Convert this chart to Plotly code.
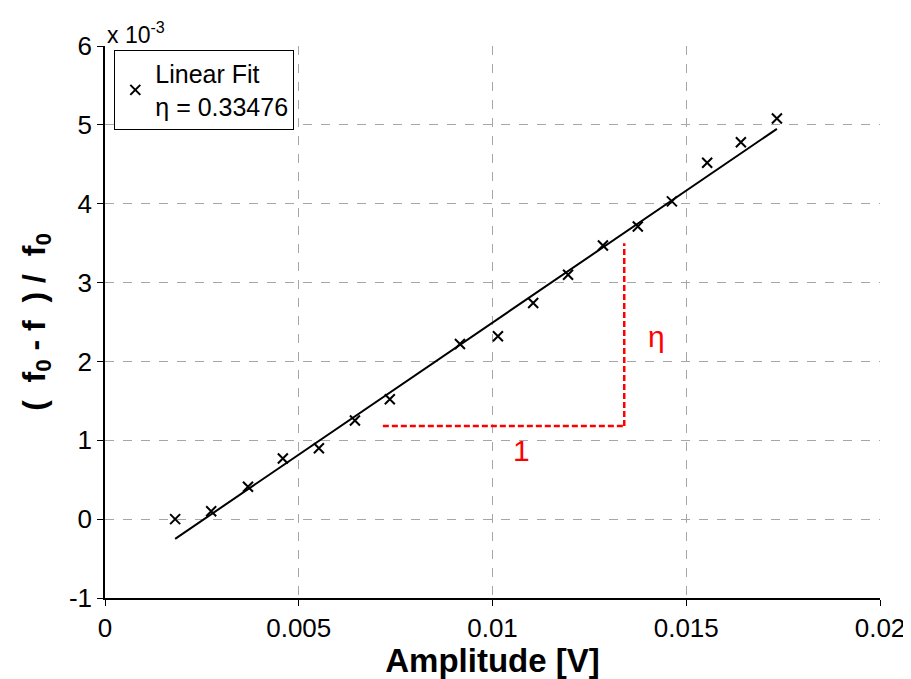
import plotly.graph_objects as go

# Measured points (x in V, y in units of 1e-3)
amp = [0.00181, 0.00274, 0.00369, 0.00459, 0.00552, 0.00645, 0.00735, 0.00916,
       0.01014, 0.01105, 0.01195, 0.01285, 0.01375, 0.01463, 0.01554, 0.01641, 0.01734]
rel_shift_e3 = [0.00, 0.10, 0.41, 0.77, 0.90, 1.25, 1.52, 2.22,
                2.32, 2.74, 3.10, 3.47, 3.71, 4.03, 4.52, 4.78, 5.08]

# Linear fit end points
fit_x = [0.00181, 0.01734]
fit_y_e3 = [-0.25, 4.95]
eta_text = "η = 0.33476"

# Slope triangle (red dashed)
tri_h_x = [0.00717, 0.01337]
tri_h_y = [1.18, 1.18]
tri_v_x = [0.01340, 0.01340]
tri_v_y = [1.18, 3.50]

x_ticks = [0, 0.005, 0.01, 0.015, 0.02]
x_tick_labels = ["0", "0.005", "0.01", "0.015", "0.02"]
y_ticks = [-1, 0, 1, 2, 3, 4, 5, 6]
y_tick_labels = ["-1", "0", "1", "2", "3", "4", "5", "6"]

FONT = "Liberation Sans, Arial, sans-serif"

fig = go.Figure()

fig.add_trace(go.Scatter(
    x=amp, y=rel_shift_e3, mode="markers",
    marker=dict(symbol="x-thin", size=10, line=dict(width=2, color="black"), color="black"),
    name="Linear Fit<br>" + eta_text, showlegend=True))

fig.add_trace(go.Scatter(
    x=fit_x, y=fit_y_e3, mode="lines",
    line=dict(color="black", width=2), showlegend=False, hoverinfo="skip"))

fig.add_trace(go.Scatter(
    x=tri_h_x, y=tri_h_y, mode="lines",
    line=dict(color="#ff0000", width=2.5, dash="6px,3px"), showlegend=False))
fig.add_trace(go.Scatter(
    x=tri_v_x, y=tri_v_y, mode="lines",
    line=dict(color="#ff0000", width=2.5, dash="6px,3px"), showlegend=False))

fig.add_annotation(x=0.01074, y=0.87, text="1", showarrow=False,
                   font=dict(family=FONT, size=30, color="#ff0000"))
fig.add_annotation(x=0.01422, y=2.31, text="η", showarrow=False,
                   font=dict(family=FONT, size=30, color="#ff0000"))

fig.add_annotation(xref="paper", yref="paper", x=0.0, y=1.0, xanchor="left", yanchor="bottom",
                   yshift=-4, text="x 10<sup>-3</sup>", showarrow=False,
                   font=dict(family=FONT, size=23, color="black"))

fig.update_layout(
    width=903, height=671,
    margin=dict(l=97, r=31, t=38, b=81),
    paper_bgcolor="white", plot_bgcolor="white",
    font=dict(family=FONT, size=25, color="black"),
    legend=dict(x=0.012, y=0.993, xanchor="left", yanchor="top",
                bgcolor="white", bordercolor="black", borderwidth=1,
                font=dict(family=FONT, size=25, color="black"),
                itemwidth=30, tracegroupgap=0),
    xaxis=dict(range=[0, 0.02], tickvals=x_ticks, ticktext=x_tick_labels,
               showgrid=True, gridcolor="#a6a6a6", griddash="dash", gridwidth=1,
               showline=True, linecolor="black", linewidth=1.5, mirror=False,
               ticks="outside", ticklen=6, tickcolor="black", zeroline=False,
               tickfont=dict(size=26), automargin=False,
               title=dict(text="<b>Amplitude [V]</b>", font=dict(size=33), standoff=2)),
    yaxis=dict(range=[-1, 6], tickvals=y_ticks, ticktext=y_tick_labels,
               showgrid=True, gridcolor="#a6a6a6", griddash="dash", gridwidth=1,
               showline=True, linecolor="black", linewidth=1.5, mirror=False,
               ticks="outside", ticklen=6, tickcolor="black", zeroline=False,
               tickfont=dict(size=26), automargin=False,
               title=dict(text="<b>(&nbsp; f<sub>0</sub> - f&nbsp; ) /&nbsp; f<sub>0</sub></b>",
                          font=dict(size=32), standoff=14)),
)

fig.write_html("out.html")
